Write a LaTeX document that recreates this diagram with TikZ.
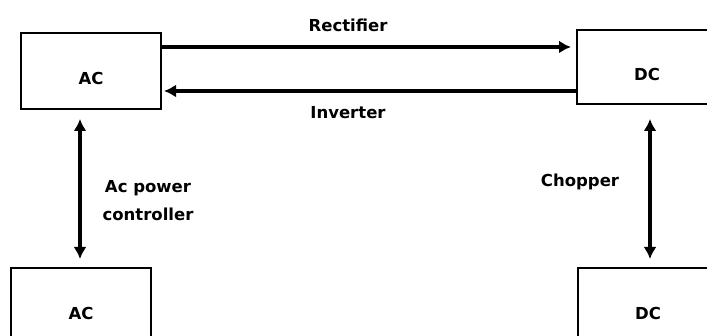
\documentclass[tikz,border=0pt]{standalone}
\usepackage{fontspec}
\setmainfont{DejaVu Sans}
\usetikzlibrary{positioning,arrows.meta}

\tikzset{
  convbox/.style={draw,line width=2pt,minimum width=140pt,inner sep=0pt,
    font=\bfseries\fontsize{16.5}{20}\selectfont,text height=28pt,text depth=0pt},
  convlabel/.style={font=\bfseries\fontsize{16.5}{28}\selectfont,align=center,inner sep=0pt},
  flow/.style={line width=3.2pt,-{Latex[length=12pt,width=13pt]}},
  flowboth/.style={line width=3.2pt,{Latex[length=12pt,width=13pt]}-{Latex[length=12pt,width=13pt]}}
}

\begin{document}
\begin{tikzpicture}[x=1pt,y=-1pt]
\useasboundingbox (0,0) rectangle (707,336);
%the boxes
\node [convbox,minimum height=76pt] (acTop) at (91,71) {AC};
\node [convbox,minimum height=74pt] (dcTop) at (647,67) {DC};
\node [convbox,minimum height=76pt] (acBottom) at (81,306) {AC};
\node [convbox,minimum height=76pt] (dcBottom) at (648,306) {DC};
%the labels
\node [convlabel] (rectLabel) at (348,25) {Rectifier};
\node [convlabel] (invLabel) at (348,113) {Inverter};
\node [convlabel] (acpcLabel) at (148,201) {Ac power\\controller};
\node [convlabel] (chopLabel) at (580,182) {Chopper};
%drawings of arrows
\draw[flow,shorten >=5pt] ([yshift=-15pt]acTop.north east) -- ([yshift=-18pt]dcTop.north west);
\draw[flow,shorten >=2pt] ([yshift=14pt]dcTop.south west) -- ([yshift=19pt]acTop.south east);

\draw[flowboth,shorten <=9pt,shorten >=8pt] ([xshift=-11pt]acTop.south) -- ([xshift=-1pt]acBottom.north);
\draw[flowboth,shorten <=14pt,shorten >=8pt] ([xshift=3pt]dcTop.south) -- ([xshift=2pt]dcBottom.north);
\end{tikzpicture}
\end{document}
